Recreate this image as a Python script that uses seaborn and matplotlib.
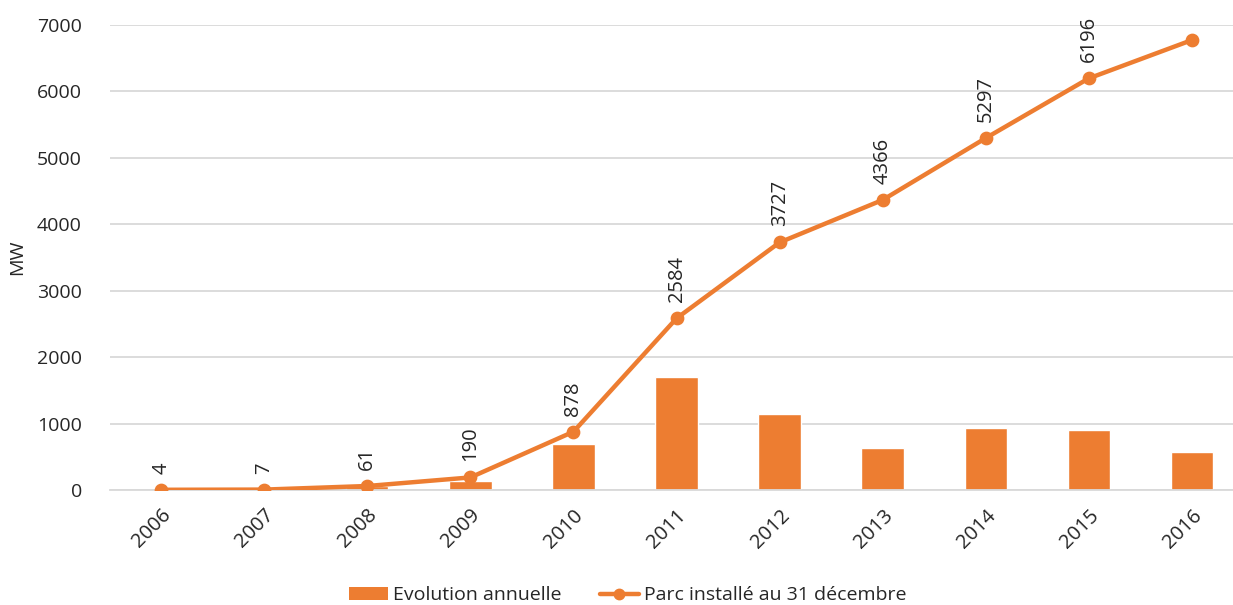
import matplotlib
matplotlib.use("Agg")
import matplotlib.pyplot as plt
import seaborn as sns
import pandas as pd
from matplotlib.patches import Patch
from matplotlib.lines import Line2D

# Installed photovoltaic capacity (MW)
years = ["2006", "2007", "2008", "2009", "2010", "2011",
         "2012", "2013", "2014", "2015", "2016"]
annual_change = [4, 3, 54, 129, 688, 1706, 1143, 639, 931, 899, 576]
installed_total = [4, 7, 61, 190, 878, 2584, 3727, 4366, 5297, 6196, 6772]
labelled_years = 10  # last year carries no value label

ORANGE = "#ED7D31"
GRID = "#D9D9D9"
TEXT = "#262626"

sns.set_theme(style="white")
plt.rcParams["font.family"] = ["Open Sans", "DejaVu Sans"]

df = pd.DataFrame({"year": years, "annual": annual_change, "total": installed_total})

fig = plt.figure(figsize=(12.33, 6.05), dpi=100)
ax = fig.add_axes([0.089, 0.19, 0.911, 0.7687])

sns.barplot(data=df, x="year", y="annual", color=ORANGE, width=0.41,
            saturation=1, ax=ax, zorder=2)
sns.pointplot(data=df, x="year", y="total", color=ORANGE, markers="o",
              linewidth=3.2, markersize=7.5, ax=ax, zorder=3)

for i, v in enumerate(installed_total[:labelled_years]):
    ax.annotate(str(v), xy=(i, v), xytext=(0, 11.5), textcoords="offset points",
                rotation=90, ha="center", va="bottom", fontsize=14.5,
                color=TEXT, clip_on=False)

ax.set_ylim(0, 7000)
ax.set_xlim(-0.5, 10.4)
ax.set_yticks(range(0, 7001, 1000))
ax.yaxis.grid(True, color=GRID, linewidth=1.3, zorder=0)
ax.set_axisbelow(True)
for s in ["top", "right", "left"]:
    ax.spines[s].set_visible(False)
ax.spines["bottom"].set_color(GRID)
ax.spines["bottom"].set_linewidth(1.3)
ax.tick_params(axis="both", length=0, labelsize=14, colors=TEXT)
ax.tick_params(axis="y", pad=20)
ax.tick_params(axis="x", pad=11, labelsize=14.5)
plt.setp(ax.get_xticklabels(), rotation=45, ha="right", rotation_mode="anchor")
ax.set_xlabel("")
ax.set_ylabel("MW", fontsize=14, color=TEXT, labelpad=8)

handles = [
    Patch(facecolor=ORANGE, edgecolor="none", label="Evolution annuelle"),
    Line2D([0], [0], color=ORANGE, linewidth=3.2, marker="o", markersize=7.5,
           label="Parc installé au 31 décembre"),
]
fig.legend(handles=handles, loc="lower center", bbox_to_anchor=(0.509, -0.028),
           ncol=2, frameon=False, fontsize=14, handlelength=2.0,
           columnspacing=2.0, handletextpad=0.25)

fig.savefig("out.png", dpi=100)
